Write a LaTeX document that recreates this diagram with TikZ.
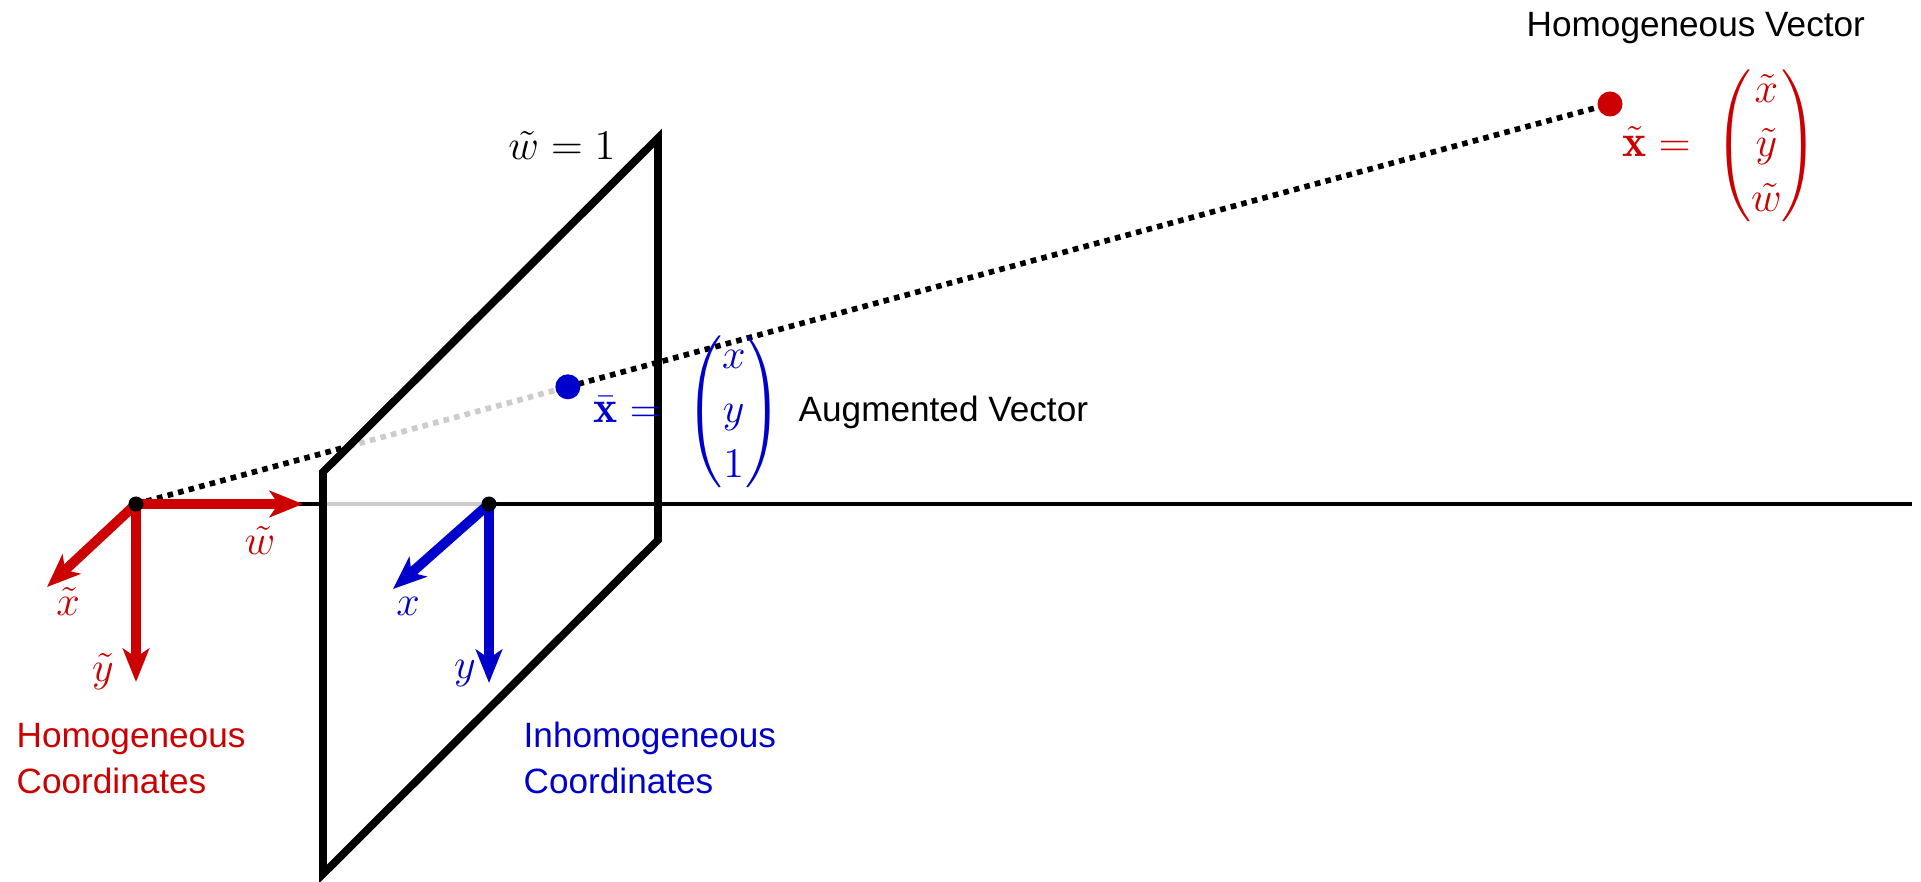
\documentclass[tikz,border=0pt]{standalone}
\usepackage{amsmath}
\usepackage{fontspec}
\newfontfamily\labelsans{Liberation Sans}
\usetikzlibrary{arrows.meta,calc,intersections}
\definecolor{homred}{RGB}{204,0,0}
\definecolor{inhblue}{RGB}{0,0,204}
\definecolor{hidden}{RGB}{204,204,204}

\begin{document}
\begin{tikzpicture}[x=0.01cm,y=-0.01cm,
  axisline/.style={line width=1.4pt},
  rayline/.style={line width=1.6pt,dash pattern=on 1.6pt off 1.5pt},
  planeline/.style={line width=2.2pt},
  frame/.style={line width=2.8pt,-{Stealth[length=9.5pt,width=7.5pt,inset=2.5pt]}},
  mathlbl/.style={font=\fontsize{13}{15.5}\selectfont,inner sep=0pt},
  textlbl/.style={font=\fontsize{10}{12.8}\selectfont\labelsans,inner sep=0pt,align=left}]
\useasboundingbox (0,0) rectangle (1921,882);

\coordinate (H) at (136,504);
\coordinate (I) at (489,504);
\coordinate (R) at (1610,104);
\coordinate (axisend) at (1912,504);
\coordinate (pTL) at (323,472);
\coordinate (pTR) at (658,138);
\coordinate (pBR) at (658,540);
\coordinate (pBL) at (323,874);
\coordinate (pL) at (323,504);
\coordinate (B) at ($(H)!0.293!(R)$);

% axis through both origins
\draw[axisline] (H) -- (pL);
\draw[axisline,hidden] (pL) -- (I);
\draw[axisline] (I) -- (axisend);

% ray to the homogeneous point
\path[name path=edge] (pTL) -- (pTR);
\path[name path=ray] (H) -- (R);
\path[name intersections={of=edge and ray,by=P}];
\draw[rayline] (H) -- (P);
\draw[rayline,hidden] (P) -- (B);
\draw[rayline] (B) -- (R);

\draw[planeline] (pTL) -- (pTR) -- (pBR) -- (pBL) -- cycle;

\coordinate (wt) at (303,504);
\coordinate (xt) at (47,587);
\coordinate (yt) at (136,682);
\draw[frame,homred] (H) -- (wt);
\draw[frame,homred] (H) -- (xt);
\draw[frame,homred] (H) -- (yt);

\coordinate (xi) at (393,589);
\coordinate (yi) at (489,683);
\draw[frame,inhblue] (I) -- (xi);
\draw[frame,inhblue] (I) -- (yi);

\fill (H) circle[radius=0.075cm];
\fill (I) circle[radius=0.075cm];
\fill[inhblue] (B) circle[radius=0.125cm];
\fill[homred] (R) circle[radius=0.125cm];

\node[mathlbl,homred] (wlbl) at (260,540) {$\tilde{w}$};
\node[mathlbl,homred] (xlbl) at (68,601) {$\tilde{x}$};
\node[mathlbl,homred] (ylbl) at (103,672) {$\tilde{y}$};
\node[mathlbl,inhblue] (xilbl) at (408,606) {$x$};
\node[mathlbl,inhblue] (yilbl) at (465,674) {$y$};

\node[mathlbl,anchor=base east] (planelbl) at (616,160) {$\tilde{w} = 1$};
\node[mathlbl,inhblue,anchor=west] (auglbl) at (593,412)
  {$\bar{\mathbf{x}} = \;\begin{pmatrix} x \\ y \\ 1 \end{pmatrix}$};
\node[mathlbl,homred,anchor=west] (homlbl) at (1622,146)
  {$\tilde{\mathbf{x}} = \;\begin{pmatrix} \tilde{x} \\ \tilde{y} \\ \tilde{w} \end{pmatrix}$};

\node[textlbl,anchor=base west] (augtxt) at (798,421) {Augmented Vector};
\node[textlbl,anchor=base west] (homtxt) at (1526,37) {Homogeneous Vector};
\node[textlbl,homred,anchor=base west] (homcoord) at (16,793) {Homogeneous\\Coordinates};
\node[textlbl,inhblue,anchor=base west] (inhcoord) at (523,793) {Inhomogeneous\\Coordinates};
\end{tikzpicture}
\end{document}
